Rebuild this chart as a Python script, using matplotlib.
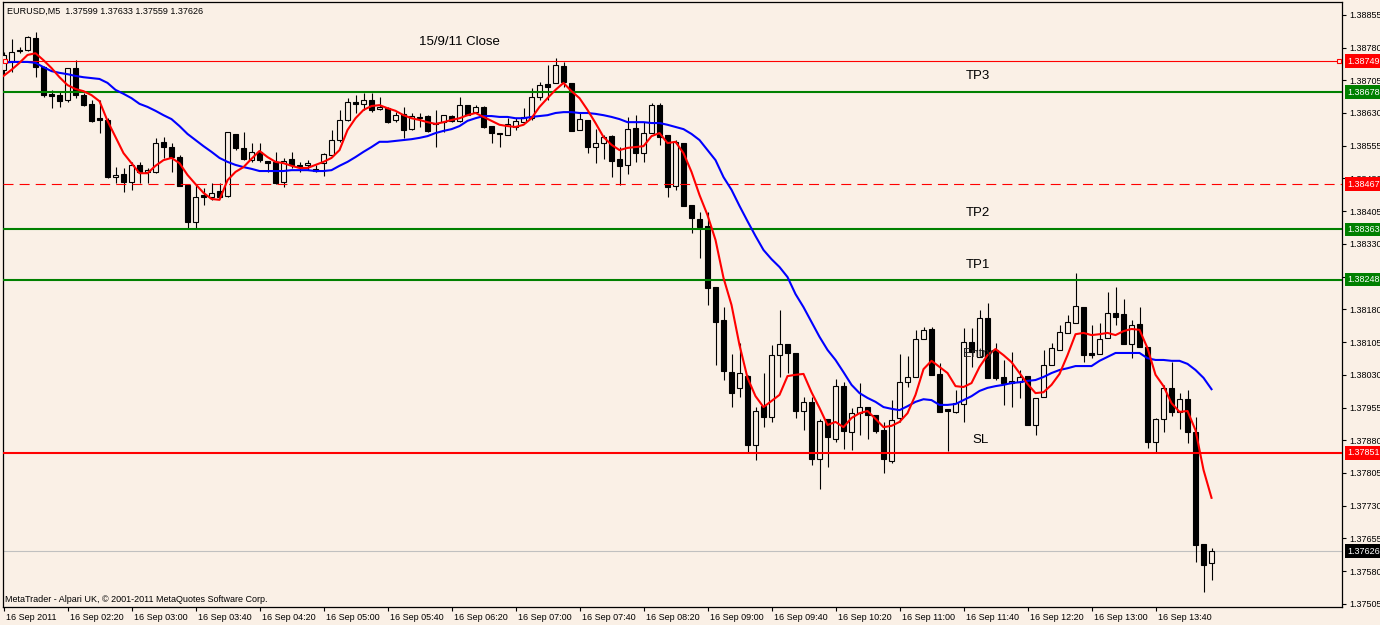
import numpy as np
import matplotlib
matplotlib.use('Agg')
import matplotlib.pyplot as plt
import matplotlib.transforms as mtransforms

plt.rcParams['font.family'] = ['Liberation Sans', 'DejaVu Sans']

# EURUSD M5, 16 Sep 2011, bars 01:40 .. 14:15, prices in points (1e-5)
opens = [138729, 138747, 138774, 138774, 138802, 138735, 138674, 138671, 138660, 138733,
         138671, 138651, 138618, 138614, 138483, 138490, 138472, 138511, 138495, 138495,
         138564, 138552, 138529, 138465, 138380, 138442, 138438, 138451, 138440, 138582,
         138550, 138522, 138541, 138520, 138518, 138472, 138525, 138511, 138511, 138502,
         138515, 138534, 138568, 138614, 138655, 138651, 138660, 138639, 138641, 138614,
         138628, 138593, 138621, 138623, 138607, 138609, 138623, 138612, 138648, 138632,
         138644, 138600, 138584, 138580, 138598, 138609, 138618, 138667, 138696, 138699,
         138738, 138699, 138591, 138614, 138552, 138561, 138577, 138525, 138511, 138596,
         138538, 138584, 138648, 138580, 138463, 138561, 138419, 138387, 138371, 138231,
         138156, 138036, 138000, 138027, 137869, 137958, 137933, 138075, 138101, 138080,
         137947, 137968, 137837, 137929, 137883, 138004, 137899, 137942, 137956, 137938,
         137903, 137832, 137931, 138013, 138025, 138112, 138135, 138032, 137952, 137945,
         137963, 138105, 138071, 138160, 138087, 138025, 138011, 138013, 138027, 137915,
         137979, 138052, 138087, 138126, 138149, 138185, 138080, 138078, 138114, 138172,
         138169, 138101, 138146, 138094, 137876, 137929, 138000, 137945, 137974, 137899,
         137642, 137599]
highs = [138770, 138800, 138781, 138806, 138816, 138738, 138683, 138678, 138733, 138751,
         138676, 138660, 138660, 138618, 138506, 138504, 138518, 138518, 138504, 138573,
         138575, 138561, 138534, 138465, 138465, 138458, 138470, 138470, 138586, 138582,
         138586, 138561, 138561, 138520, 138541, 138527, 138541, 138518, 138522, 138511,
         138538, 138591, 138637, 138664, 138671, 138676, 138676, 138667, 138644, 138632,
         138644, 138630, 138630, 138625, 138637, 138625, 138625, 138667, 138648, 138648,
         138646, 138600, 138584, 138618, 138618, 138641, 138687, 138701, 138740, 138756,
         138747, 138699, 138630, 138614, 138593, 138580, 138580, 138552, 138621, 138625,
         138609, 138653, 138653, 138580, 138568, 138561, 138419, 138403, 138403, 138231,
         138185, 138078, 138103, 138030, 137956, 138034, 138098, 138179, 138101, 138080,
         137979, 137979, 137929, 137929, 138020, 138013, 137954, 138011, 137956, 137938,
         137922, 137972, 138078, 138073, 138133, 138140, 138140, 138057, 137952, 137995,
         138137, 138137, 138179, 138195, 138103, 138064, 138082, 138041, 138027, 137977,
         138087, 138103, 138144, 138167, 138263, 138185, 138144, 138149, 138220, 138231,
         138204, 138156, 138185, 138094, 137931, 138007, 138059, 137988, 137995, 137933,
         137642, 137633]
lows = [138717, 138724, 138767, 138772, 138712, 138667, 138641, 138644, 138655, 138664,
        138646, 138609, 138584, 138481, 138470, 138449, 138454, 138470, 138470, 138492,
        138527, 138495, 138463, 138366, 138366, 138419, 138431, 138438, 138438, 138545,
        138522, 138518, 138518, 138495, 138467, 138460, 138504, 138495, 138499, 138495,
        138486, 138529, 138564, 138612, 138630, 138637, 138632, 138637, 138607, 138609,
        138573, 138591, 138598, 138586, 138552, 138586, 138609, 138609, 138625, 138630,
        138596, 138561, 138552, 138580, 138591, 138607, 138614, 138660, 138660, 138699,
        138690, 138589, 138591, 138538, 138515, 138525, 138483, 138465, 138490, 138518,
        138518, 138584, 138557, 138438, 138454, 138417, 138355, 138298, 138190, 138052,
        138018, 137956, 137979, 137851, 137835, 137910, 137922, 138025, 138034, 137931,
        137903, 137823, 137768, 137819, 137876, 137860, 137858, 137892, 137883, 137897,
        137805, 137828, 137922, 138002, 138025, 138112, 138030, 137945, 137855, 137942,
        137922, 138048, 138071, 138023, 138018, 137961, 137956, 137977, 137915, 137892,
        137979, 138052, 138087, 138126, 138149, 138059, 138068, 138078, 138114, 138144,
        138101, 138068, 138094, 137862, 137853, 137899, 137936, 137906, 137874, 137601,
        137532, 137559]
closes = [138763, 138770, 138772, 138804, 138735, 138671, 138669, 138657, 138733, 138671,
          138648, 138612, 138614, 138483, 138488, 138472, 138511, 138495, 138499, 138561,
          138552, 138529, 138463, 138380, 138438, 138438, 138447, 138438, 138586, 138550,
          138525, 138541, 138522, 138515, 138470, 138520, 138511, 138506, 138515, 138497,
          138536, 138568, 138614, 138655, 138651, 138660, 138637, 138644, 138609, 138625,
          138591, 138623, 138618, 138589, 138605, 138625, 138612, 138648, 138625, 138644,
          138598, 138584, 138582, 138605, 138612, 138621, 138667, 138694, 138690, 138740,
          138701, 138589, 138616, 138552, 138561, 138575, 138520, 138509, 138593, 138538,
          138584, 138648, 138575, 138460, 138564, 138417, 138389, 138369, 138229, 138151,
          138039, 137988, 138034, 137869, 137947, 137933, 138075, 138101, 138080, 137947,
          137968, 137837, 137924, 137887, 138004, 137901, 137942, 137956, 137938, 137901,
          137837, 137926, 138013, 138025, 138112, 138133, 138030, 137945, 137947, 137965,
          138105, 138082, 138160, 138023, 138023, 138011, 138016, 138025, 137915, 137977,
          138052, 138091, 138128, 138151, 138188, 138075, 138075, 138112, 138172, 138162,
          138101, 138144, 138094, 137876, 137929, 138000, 137945, 137974, 137899, 137640,
          137594, 137626]

# moving averages as drawn on the chart (red fast, blue slow)
ma_fast = [138715, 138729, 138745, 138763, 138767, 138751, 138733, 138712, 138694, 138685,
           138680, 138671, 138657, 138612, 138575, 138538, 138515, 138492, 138492, 138509,
           138522, 138527, 138515, 138488, 138467, 138447, 138433, 138431, 138476, 138495,
           138506, 138525, 138543, 138529, 138518, 138515, 138509, 138504, 138504, 138511,
           138518, 138527, 138545, 138591, 138618, 138637, 138646, 138648, 138641, 138635,
           138625, 138618, 138614, 138609, 138605, 138609, 138614, 138618, 138625, 138630,
           138621, 138612, 138603, 138600, 138598, 138603, 138618, 138644, 138664, 138683,
           138699, 138680, 138664, 138637, 138607, 138575, 138557, 138545, 138550, 138552,
           138554, 138577, 138584, 138561, 138564, 138538, 138495, 138442, 138396, 138339,
           138252, 138190, 138098, 138023, 137981, 137956, 137970, 137984, 138027, 138030,
           138032, 137990, 137954, 137915, 137922, 137910, 137931, 137942, 137947, 137929,
           137910, 137913, 137922, 137942, 137984, 138043, 138062, 138048, 138034, 138004,
           138002, 138011, 138048, 138075, 138089, 138075, 138059, 138034, 138009, 137988,
           137990, 138007, 138032, 138075, 138123, 138126, 138121, 138123, 138126, 138121,
           138130, 138135, 138133, 138091, 138030, 138004, 137965, 137945, 137947, 137903,
           137812, 137748]
ma_slow = [138745, 138747, 138747, 138747, 138745, 138735, 138726, 138722, 138719, 138715,
           138712, 138710, 138708, 138699, 138683, 138674, 138664, 138651, 138644, 138635,
           138625, 138616, 138600, 138582, 138568, 138554, 138541, 138527, 138518, 138511,
           138506, 138502, 138497, 138497, 138497, 138497, 138499, 138499, 138499, 138497,
           138497, 138499, 138509, 138518, 138529, 138541, 138552, 138564, 138564, 138566,
           138568, 138570, 138573, 138577, 138584, 138589, 138593, 138600, 138612, 138618,
           138623, 138623, 138621, 138621, 138618, 138618, 138621, 138623, 138625, 138630,
           138632, 138632, 138630, 138630, 138628, 138625, 138621, 138616, 138609, 138609,
           138609, 138607, 138607, 138603, 138598, 138593, 138582, 138568, 138545, 138522,
           138483, 138454, 138417, 138382, 138348, 138316, 138295, 138277, 138254, 138215,
           138185, 138151, 138117, 138087, 138064, 138036, 138007, 137988, 137977, 137968,
           137956, 137952, 137949, 137958, 137968, 137974, 137972, 137961, 137961, 137963,
           137972, 137981, 137993, 138000, 138004, 138007, 138011, 138013, 138016, 138018,
           138025, 138034, 138041, 138045, 138050, 138050, 138050, 138062, 138071, 138080,
           138080, 138080, 138080, 138068, 138064, 138064, 138062, 138062, 138055, 138041,
           138023, 137997]

time_labels = ['16 Sep 2011', '16 Sep 02:20', '16 Sep 03:00', '16 Sep 03:40', '16 Sep 04:20',
               '16 Sep 05:00', '16 Sep 05:40', '16 Sep 06:20', '16 Sep 07:00', '16 Sep 07:40',
               '16 Sep 08:20', '16 Sep 09:00', '16 Sep 09:40', '16 Sep 10:20', '16 Sep 11:00',
               '16 Sep 11:40', '16 Sep 12:20', '16 Sep 13:00', '16 Sep 13:40']
price_ticks = [1.38855, 1.38780, 1.38705, 1.38630, 1.38555, 1.38480, 1.38405, 1.38330,
               1.38255, 1.38180, 1.38105, 1.38030, 1.37955, 1.37880, 1.37805, 1.37730,
               1.37655, 1.37580, 1.37505]

prev_close = 1.38749
tp3, tp2, tp1 = 1.38678, 1.38363, 1.38248
dash_level = 1.38467
sl = 1.37851
bid = 1.37626

o = np.array(opens) / 1e5
h = np.array(highs) / 1e5
l = np.array(lows) / 1e5
c = np.array(closes) / 1e5
n = len(o)
x = np.arange(n)

bg = '#FAF0E6'
green = '#008000'

fig = plt.figure(figsize=(13.8, 6.25), dpi=100, facecolor=bg)
ax = fig.add_axes([3 / 1380, 18 / 625, 1339 / 1380, 605 / 625])
ax.set_facecolor(bg)
ax.set_xlim(-0.0625, 167.31)
ax.set_ylim(1.374978, 1.388844)

# candles
ax.vlines(x, l, h, color='black', lw=0.8, zorder=2)
up = c >= o
ax.bar(x[up], (c - o)[up], bottom=o[up], width=0.55, facecolor=bg,
       edgecolor='black', lw=0.8, zorder=3)
ax.bar(x[~up], (o - c)[~up], bottom=c[~up], width=0.55, facecolor='black',
       edgecolor='black', lw=0.8, zorder=3)

# moving averages
ax.plot(x, np.array(ma_slow) / 1e5, color='#0000FF', lw=1.5, zorder=5)
ax.plot(x, np.array(ma_fast) / 1e5, color='#FF0000', lw=1.5, zorder=5)

# horizontal objects
ax.axhline(prev_close, color='#FF0000', lw=0.8, zorder=4)
ax.plot([0.2, 166.9], [prev_close, prev_close], 's', ms=3.5, mfc=bg, mec='#FF0000',
        mew=0.8, zorder=6, clip_on=False)
for lv in (tp3, tp2, tp1):
    ax.axhline(lv, color=green, lw=1.5, zorder=4)
ax.axhline(dash_level, color='#FF0000', lw=0.8, dashes=(9, 5.5), zorder=4)
ax.axhline(sl, color='#FF0000', lw=1.5, zorder=4)
ax.axhline(bid, color='#C0C0C0', lw=0.8, zorder=1)

# text objects
ax.text(51.9, 1.38793, '15/9/11 Close', fontsize=9.5, va='center', ha='left', zorder=6)
ax.text(120.3, 1.38715, 'TP3', fontsize=9.5, va='center', ha='left', zorder=6)
ax.text(120.3, 1.38401, 'TP2', fontsize=9.5, va='center', ha='left', zorder=6)
ax.text(120.3, 1.38282, 'TP1', fontsize=9.5, va='center', ha='left', zorder=6)
ax.text(121.1, 1.37881, 'SL', fontsize=9.5, va='center', ha='left', zorder=6)
ax.text(119.9, 1.38078, 'Entry', fontsize=9.2, va='center', ha='left', color='#222222', zorder=6)

ax.text(0.003, 0.985, 'EURUSD,M5  1.37599 1.37633 1.37559 1.37626', transform=ax.transAxes,
        fontsize=6.5, va='center', ha='left')
ax.text(0.0015, 0.013, 'MetaTrader - Alpari UK, \u00a9 2001-2011 MetaQuotes Software Corp.',
        transform=ax.transAxes, fontsize=6.5, va='center', ha='left')

# axes
for sp in ax.spines.values():
    sp.set_linewidth(0.9)
    sp.set_color('black')
ax.yaxis.tick_right()
ax.set_yticks(price_ticks)
ax.set_yticklabels(['%.5f' % v for v in price_ticks])
ax.set_xticks(range(0, 8 * len(time_labels), 8))
ax.set_xticklabels(time_labels)
ax.tick_params(axis='both', colors='black', labelsize=6.5, length=3, width=0.8, pad=2)
ax.tick_params(axis='x', pad=1.5)
offset = mtransforms.ScaledTranslation(2 / 100, 0, fig.dpi_scale_trans)
for lab in ax.get_xticklabels():
    lab.set_ha('left')
    lab.set_transform(lab.get_transform() + offset)

# price labels on the right scale
trans = mtransforms.blended_transform_factory(ax.transAxes, ax.transData)
box_levels = [prev_close, tp3, dash_level, tp2, tp1, sl, bid]
box_colors = ['#FF0000', green, '#FF0000', green, green, '#FF0000', 'black']
for lv, col in zip(box_levels, box_colors):
    ax.text(1.0037, lv, '%.5f' % lv, transform=trans, color='white', fontsize=6.5,
            va='center', ha='left', zorder=10, clip_on=False,
            bbox=dict(boxstyle='square,pad=0.25', fc=col, ec='none'))

fig.savefig('out.png', dpi=100, facecolor=bg)
